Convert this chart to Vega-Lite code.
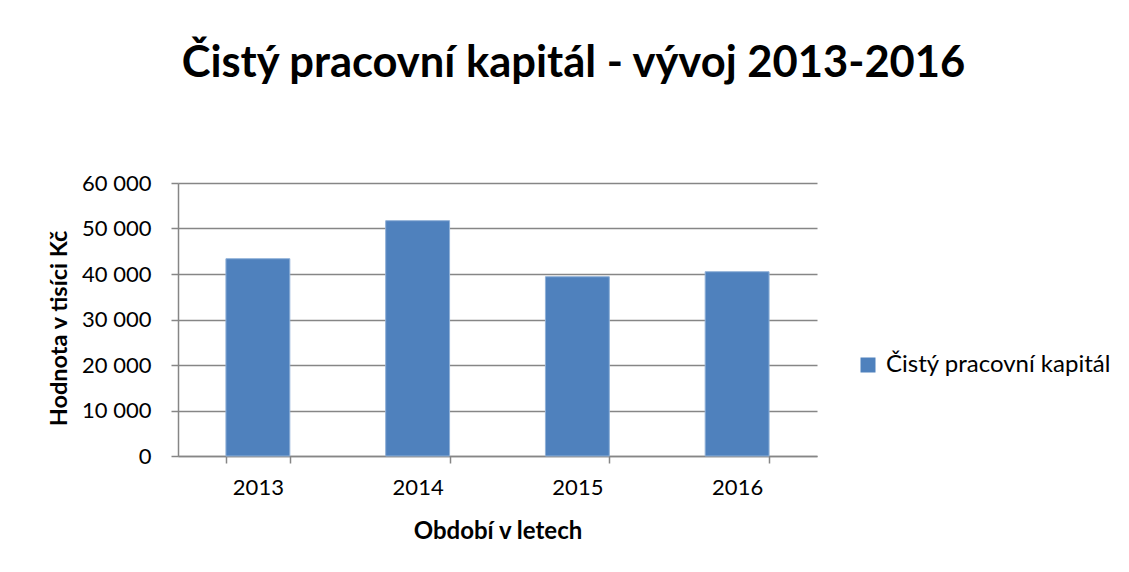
{
  "$schema": "https://vega.github.io/schema/vega-lite/v6.json",
  "autosize": "none",
  "width": 639,
  "height": 273,
  "padding": {"left": 178, "top": 183, "right": 312, "bottom": 116},
  "background": "white",
  "config": {"view": {"stroke": null}},
  "title": {
    "text": "Čistý pracovní kapitál - vývoj 2013-2016",
    "font": "Lato",
    "fontSize": 43.5,
    "fontWeight": "bold",
    "color": "black",
    "anchor": "middle",
    "frame": "group",
    "dx": 76,
    "offset": 86
  },
  "data": {
    "values": [
      {"rok": "2013", "hodnota": 43360, "serie": "Čistý pracovní kapitál"},
      {"rok": "2014", "hodnota": 51720, "serie": "Čistý pracovní kapitál"},
      {"rok": "2015", "hodnota": 39400, "serie": "Čistý pracovní kapitál"},
      {"rok": "2016", "hodnota": 40500, "serie": "Čistý pracovní kapitál"}
    ]
  },
  "mark": {"type": "bar", "stroke": "#8fb0d8", "strokeWidth": 1},
  "encoding": {
    "x": {
      "field": "rok",
      "type": "ordinal",
      "scale": {"paddingInner": 0.6, "paddingOuter": 0.3},
      "axis": {
        "labelAngle": 0,
        "tickBand": "extent",
        "tickSize": 7,
        "tickColor": "#868686",
        "tickWidth": 1.5,
        "domainColor": "#868686",
        "domainWidth": 1.5,
        "labelFont": "Lato",
        "labelFontSize": 22,
        "labelColor": "black",
        "labelPadding": 14,
        "title": "Období v letech",
        "titleFont": "Lato",
        "titleFontSize": 24,
        "titleFontWeight": "bold",
        "titleColor": "black",
        "titleX": 319.5,
        "titleY": 75,
        "titleAlign": "center",
        "titleBaseline": "middle"
      }
    },
    "y": {
      "field": "hodnota",
      "type": "quantitative",
      "scale": {"domain": [0, 60000]},
      "axis": {
        "values": [0, 10000, 20000, 30000, 40000, 50000, 60000],
        "labelExpr": "replace(format(datum.value, ',d'), ',', ' ')",
        "grid": true,
        "gridColor": "#868686",
        "gridWidth": 1.5,
        "domainColor": "#868686",
        "domainWidth": 1.5,
        "tickColor": "#868686",
        "tickWidth": 1.5,
        "tickSize": 7,
        "labelFont": "Lato",
        "labelFontSize": 22,
        "labelColor": "black",
        "labelPadding": 20,
        "title": "Hodnota v tisíci Kč",
        "titleFont": "Lato",
        "titleFontSize": 23.5,
        "titleFontWeight": "bold",
        "titleColor": "black",
        "titleAngle": -90,
        "titleX": -119,
        "titleY": 145,
        "titleAlign": "center",
        "titleBaseline": "middle"
      }
    },
    "color": {
      "field": "serie",
      "type": "nominal",
      "scale": {"range": ["#4F81BD"]},
      "legend": {
        "title": null,
        "orient": "none",
        "legendX": 678,
        "legendY": 170,
        "symbolType": "square",
        "symbolSize": 225,
        "symbolStrokeWidth": 0,
        "labelFont": "Lato",
        "labelFontSize": 24,
        "labelLimit": 400,
        "labelColor": "black",
        "labelOffset": 6
      }
    }
  }
}
